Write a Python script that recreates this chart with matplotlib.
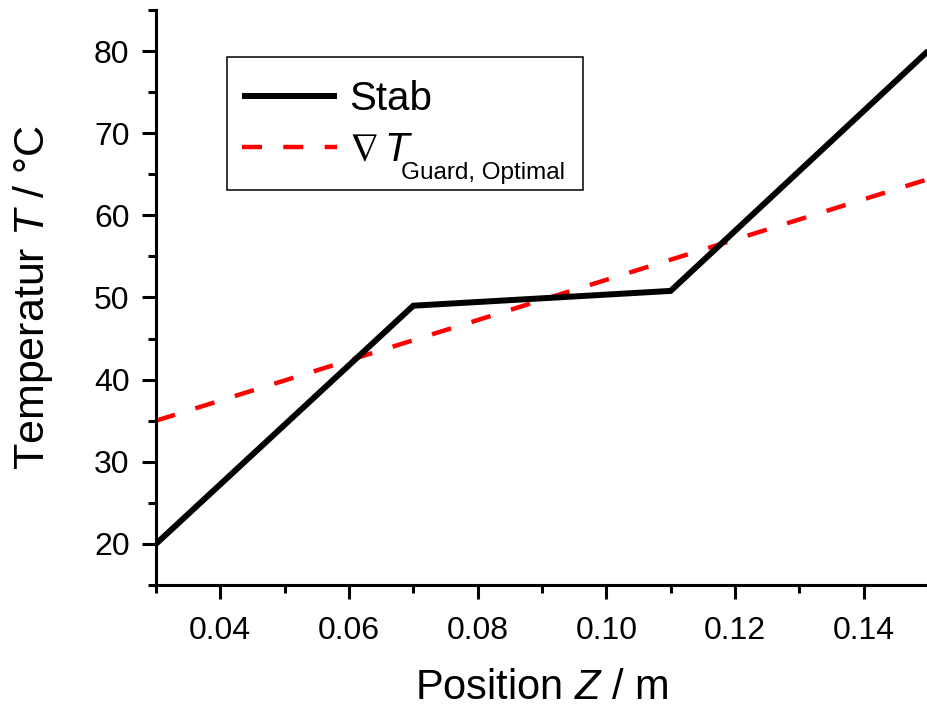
import matplotlib.pyplot as plt
from matplotlib.patches import Rectangle
from matplotlib.ticker import MultipleLocator

# Werte
z_stab = [0.03, 0.07, 0.11, 0.15]
t_stab = [20.0, 49.0, 50.8, 80.0]

z_guard = [0.03, 0.15]
t_guard = [35.0, 64.4]

x_ticks = [0.04, 0.06, 0.08, 0.10, 0.12, 0.14]
x_labels = ['0.04', '0.06', '0.08', '0.10', '0.12', '0.14']
y_ticks = [20, 30, 40, 50, 60, 70, 80]

plt.rcParams['font.family'] = ['Liberation Sans', 'DejaVu Sans']
plt.rcParams['mathtext.fontset'] = 'custom'
plt.rcParams['mathtext.rm'] = 'Liberation Sans'
plt.rcParams['mathtext.it'] = 'Liberation Sans:italic'
plt.rcParams['mathtext.fallback'] = 'stix'

W, H = 928, 710
fig = plt.figure(figsize=(W / 100, H / 100), dpi=100)
ax = fig.add_axes([0.168, 0.176, 0.832, 0.810])

ax.plot(z_stab, t_stab, color='black', lw=4.3, solid_capstyle='butt',
        solid_joinstyle='miter', label='Stab', zorder=3)
ax.plot(z_guard, t_guard, color='red', lw=3.2, dashes=(4.5, 4.8),
        dash_capstyle='butt', label=r'$\nabla\,T$', zorder=2)

ax.set_xlim(0.03, 0.15)
ax.set_ylim(15, 85)
ax.xaxis.set_minor_locator(MultipleLocator(0.01))
ax.yaxis.set_minor_locator(MultipleLocator(5))
ax.set_xticks(x_ticks)
ax.set_xticklabels(x_labels)
ax.set_yticks(y_ticks)

for s in ['top', 'right']:
    ax.spines[s].set_visible(False)
for s in ['left', 'bottom']:
    ax.spines[s].set_linewidth(2.2)

ax.tick_params(which='major', direction='out', length=10, width=2.2, labelsize=23)
ax.tick_params(which='minor', direction='out', length=6, width=2.2)
ax.tick_params(axis='x', pad=12)
ax.tick_params(axis='y', pad=9)

ax.set_xlabel('Position $Z$ / m', fontsize=30, labelpad=16)
ax.set_ylabel('Temperatur $T$ / °C', fontsize=31, labelpad=28)

# Legende ohne Rahmen, Rahmen separat
leg = ax.legend(loc='upper left', bbox_to_anchor=(242 / W, 1 - 80 / H),
                bbox_transform=fig.transFigure, fontsize=29, frameon=False,
                handlelength=2.35, borderpad=0, borderaxespad=0,
                labelspacing=0.32, handletextpad=0.3)
fig.patches.append(Rectangle((227 / W, 1 - 190 / H), 356 / W, 133 / H,
                             transform=fig.transFigure, fill=False,
                             edgecolor='black', lw=1.1))

# Index "Guard, Optimal" kleiner als in mathtext moeglich
fig.canvas.draw()
bb = leg.get_texts()[1].get_window_extent()
fig.text((bb.x1 - 12) / W, (bb.y0 - 10) / H, 'Guard, Optimal', fontsize=17.5,
         ha='left', va='baseline')

fig.savefig('out.png', dpi=100)
